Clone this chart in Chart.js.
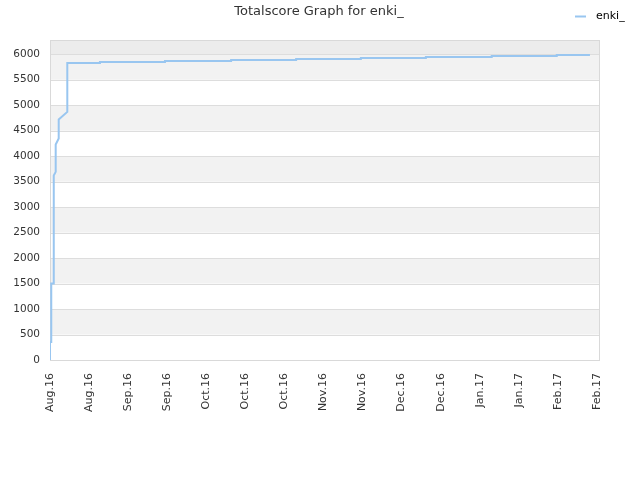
<!DOCTYPE html>
<html>
<head>
<meta charset="utf-8">
<script src="https://cdn.jsdelivr.net/npm/chart.js@4/dist/chart.umd.min.js"></script>
<style>
html,body{margin:0;padding:0;background:#fff;}
#wrap{width:640px;height:480px;position:relative;}
</style>
</head>
<body>
<div id="wrap"><canvas id="c" width="640" height="480"></canvas></div>
<script>
// Days since Aug 6 2016
const dayOffsets = [0, 0, 0.45, 0.45, 1.18, 1.18, 1.43, 1.43, 2.04, 2.04, 3.12, 3.12, 6.2, 6.2, 17.9, 17.9, 41.2, 41.2, 64.9, 64.9, 88.2, 88.2, 111.4, 111.4, 134.7, 134.7, 158.3, 158.3, 181.6, 181.6, 193.5];
const scores     = [0, 355, 355, 1500, 1500, 2890, 2890, 3620, 3692, 4229, 4347, 4719, 4869, 5829, 5829, 5849, 5849, 5869, 5869, 5888, 5888, 5908, 5908, 5927, 5927, 5947, 5947, 5967, 5967, 5986, 5986];
const tickDays   = [0, 14, 28, 42, 56, 70, 84, 98, 112, 126, 140, 154, 168, 182, 196];
const tickLabels = ["Aug.16","Aug.16","Sep.16","Sep.16","Oct.16","Oct.16","Oct.16","Nov.16","Nov.16","Dec.16","Dec.16","Jan.17","Jan.17","Feb.17","Feb.17"];
const yTicks     = [0, 500, 1000, 1500, 2000, 2500, 3000, 3500, 4000, 4500, 5000, 5500, 6000];
const seriesName = "enki_";
const chartTitle = "Totalscore Graph for enki_";

const lineColor = "#99c6f0";
const FONT = "'DejaVu Sans', sans-serif";

const bandsPlugin = {
  id: 'bands',
  beforeDatasetsDraw(chart) {
    const {ctx, chartArea: a, scales: {y}} = chart;
    ctx.save();
    for (let v = 0; v < y.max; v += 500) {
      const top = y.getPixelForValue(Math.min(v + 500, y.max));
      const bot = y.getPixelForValue(v);
      let col;
      if (v >= 6000) col = '#ececec';
      else col = ((v / 500) % 2 === 1) ? '#f2f2f2' : '#ffffff';
      ctx.fillStyle = col;
      ctx.fillRect(a.left, top, a.right - a.left, bot - top);
    }
    ctx.strokeStyle = '#dddddd';
    ctx.lineWidth = 1;
    for (let v = 500; v <= 6000; v += 500) {
      const py = Math.round(y.getPixelForValue(v)) + 0.5;
      ctx.beginPath(); ctx.moveTo(a.left, py); ctx.lineTo(a.right, py); ctx.stroke();
    }
    ctx.strokeStyle = '#d9d9d9';
    ctx.strokeRect(a.left + 0.5, a.top + 0.5, a.right - a.left - 1, a.bottom - a.top);
    ctx.restore();
  },
  afterDraw(chart) {
    const ctx = chart.ctx;
    ctx.save();
    ctx.fillStyle = '#333333';
    ctx.font = "13px " + FONT;
    ctx.textAlign = 'center';
    ctx.textBaseline = 'middle';
    ctx.fillText(chartTitle, 319, 12);
    ctx.strokeStyle = lineColor;
    ctx.lineWidth = 2;
    ctx.beginPath(); ctx.moveTo(575, 16.5); ctx.lineTo(586, 16.5); ctx.stroke();
    ctx.fillStyle = '#000000';
    ctx.font = "11px " + FONT;
    ctx.textAlign = 'left';
    ctx.fillText(seriesName, 596, 16);
    ctx.restore();
  }
};

new Chart(document.getElementById('c'), {
  type: 'line',
  data: {
    datasets: [{
      label: seriesName,
      data: dayOffsets.map((d, i) => ({x: d, y: scores[i]})),
      borderColor: lineColor,
      backgroundColor: lineColor,
      borderWidth: 2,
      pointRadius: 0,
      tension: 0,
      fill: false
    }]
  },
  options: {
    responsive: false,
    animation: false,
    devicePixelRatio: 1,
    layout: {padding: {top: 40, right: 40, left: 0, bottom: 0}},
    plugins: {legend: {display: false}, title: {display: false}, tooltip: {enabled: false}},
    scales: {
      x: {
        type: 'linear',
        min: 0,
        max: 197.1,
        afterBuildTicks(scale) { scale.ticks = tickDays.map(v => ({value: v})); },
        afterFit(scale) { scale.height = 120; },
        grid: {display: false, drawTicks: false},
        border: {display: false},
        ticks: {
          minRotation: 90, maxRotation: 90, autoSkip: false, padding: 13,
          color: '#333333', font: {family: FONT, size: 11},
          callback: (v, i) => tickLabels[i]
        }
      },
      y: {
        min: 0,
        max: 6280,
        afterBuildTicks(scale) { scale.ticks = yTicks.map(v => ({value: v})); },
        afterFit(scale) { scale.width = 50; },
        grid: {display: false, drawTicks: false},
        border: {display: false},
        ticks: {padding: 10, color: '#333333', font: {family: FONT, size: 10.5},
          callback: (v) => String(v)}
      }
    }
  },
  plugins: [bandsPlugin]
});
</script>
</body>
</html>
